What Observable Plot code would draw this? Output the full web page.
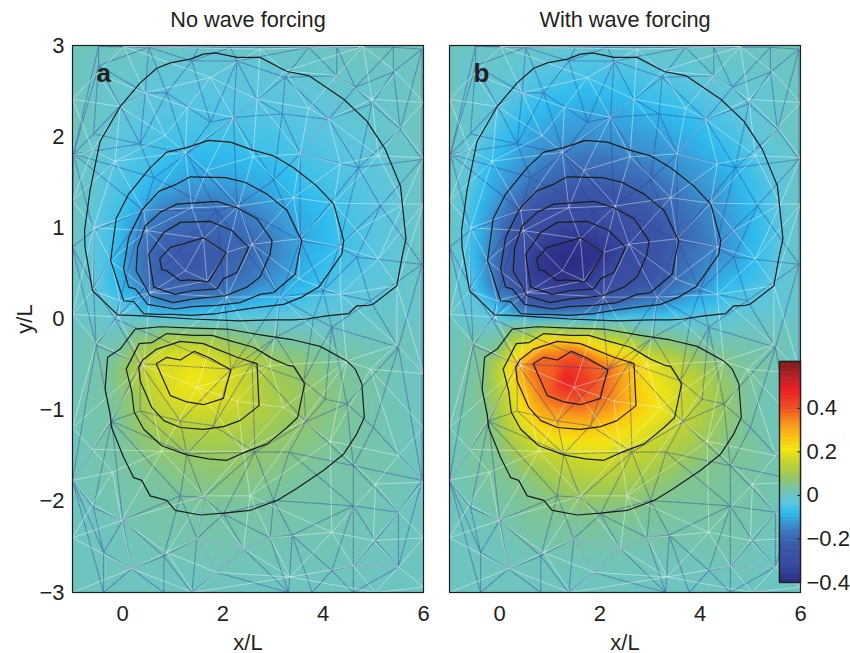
<!DOCTYPE html>
<html><head><meta charset="utf-8">
<script src="https://cdn.jsdelivr.net/npm/d3@7"></script>
<script src="https://cdn.jsdelivr.net/npm/@observablehq/plot@0.6"></script>
<style>
html,body{margin:0;padding:0;background:#fff}
#chart{position:relative;width:850px;height:653px;overflow:hidden}
#chart svg{position:absolute;top:0}
</style></head>
<body><div id="chart"></div>
<script>
// Contours (x/L, y/L); the black lines coincide in the two panels
const upper1=[[-0.60,0.31],[-0.75,0.785],[-0.76,0.97],[-0.65,1.41],[-0.45,1.95],[-0.05,2.33],[0.35,2.59],[0.68,2.75],[0.95,2.81],[1.35,2.85],[1.61,2.905],[1.85,2.92],[2.28,2.87],[2.74,2.87],[3.28,2.715],[3.71,2.67],[4.41,2.41],[4.87,2.17],[5.24,1.86],[5.54,1.46],[5.65,0.88],[5.57,0.675],[5.47,0.365],[5.00,0.165],[4.90,0.15],[4.67,0.145],[4.51,0.06],[4.07,0.035],[3.67,0.0],[3.41,-0.01],[3.01,-0.01],[2.34,-0.02],[1.38,0.0],[0.42,0.035],[-0.10,0.045]];
const upper2=[[0.02,0.20],[-0.24,0.64],[-0.13,1.10],[0.12,1.37],[0.55,1.66],[0.88,1.83],[1.28,1.88],[1.71,1.96],[2.15,1.94],[2.61,1.85],[3.01,1.79],[3.41,1.66],[3.87,1.46],[4.21,1.26],[4.41,0.86],[4.37,0.71],[4.17,0.55],[3.91,0.35],[3.57,0.24],[3.21,0.16],[2.74,0.13],[2.34,0.10],[1.88,0.06],[1.38,0.04],[1.01,0.05],[0.68,0.05],[0.42,0.06],[0.22,0.19]];
const upper3=[[0.12,0.35],[0.02,0.55],[0.12,0.895],[0.38,1.19],[0.72,1.40],[1.08,1.48],[1.35,1.56],[2.05,1.55],[2.44,1.50],[2.88,1.37],[3.28,1.19],[3.57,0.86],[3.49,0.64],[3.44,0.49],[3.01,0.29],[2.74,0.27],[2.34,0.18],[1.88,0.15],[1.38,0.135],[1.05,0.11],[0.50,0.16],[0.25,0.33]];
const upper4=[[0.27,0.53],[0.30,0.785],[0.45,1.02],[0.75,1.17],[1.08,1.26],[1.88,1.29],[2.28,1.22],[2.68,1.10],[2.98,0.86],[2.94,0.71],[2.74,0.46],[2.48,0.35],[2.05,0.255],[1.41,0.22],[1.01,0.18],[0.55,0.255]];
const upper5=[[0.52,0.71],[0.82,0.95],[1.15,1.06],[1.75,1.07],[2.18,0.97],[2.51,0.785],[2.28,0.51],[2.01,0.44],[1.88,0.33],[1.38,0.31],[1.05,0.27],[0.62,0.35]];
const upper6=[[0.74,0.66],[0.95,0.785],[1.18,0.82],[1.60,0.89],[2.07,0.73],[1.71,0.41],[1.31,0.43],[1.15,0.42],[0.88,0.53],[0.78,0.54]];
const lower1=[[0.25,-0.11],[0.75,-0.085],[1.41,-0.10],[2.08,-0.11],[2.81,-0.18],[3.41,-0.23],[3.94,-0.30],[4.47,-0.46],[4.64,-0.55],[4.77,-0.71],[4.82,-1.08],[4.67,-1.26],[4.41,-1.48],[4.01,-1.66],[3.47,-1.86],[3.08,-1.99],[2.54,-2.10],[2.01,-2.13],[1.55,-2.15],[1.05,-2.10],[0.88,-1.99],[0.55,-1.94],[0.38,-1.77],[0.22,-1.74],[0.02,-1.52],[-0.22,-1.19],[-0.25,-1.04],[-0.35,-0.77],[-0.30,-0.42],[-0.05,-0.33]];
const lower2=[[0.33,-0.27],[0.58,-0.26],[0.88,-0.16],[1.41,-0.18],[1.78,-0.18],[2.15,-0.24],[2.61,-0.31],[3.01,-0.44],[3.28,-0.505],[3.41,-0.52],[3.63,-0.71],[3.49,-1.08],[3.28,-1.19],[2.88,-1.37],[2.44,-1.46],[2.08,-1.55],[1.71,-1.535],[1.28,-1.49],[0.78,-1.39],[0.42,-1.21],[0.23,-1.02],[0.18,-0.79],[0.07,-0.55]];
const lower3=[[0.40,-0.45],[0.68,-0.33],[1.15,-0.245],[1.61,-0.27],[1.88,-0.33],[2.28,-0.42],[2.68,-0.49],[2.72,-0.95],[2.34,-1.115],[2.01,-1.18],[1.61,-1.21],[1.15,-1.19],[0.82,-1.115],[0.58,-0.97],[0.35,-0.68],[0.32,-0.53]];
const lower4=[[0.67,-0.49],[0.88,-0.42],[1.15,-0.45],[1.43,-0.355],[1.75,-0.43],[2.16,-0.56],[2.07,-0.73],[2.01,-0.87],[1.61,-0.94],[1.28,-0.91],[0.95,-0.84]];
const contours=[upper1,upper2,upper3,upper4,upper5,upper6,lower1,lower2,lower3,lower4];
// Estimated field value on each contour, per panel
const levelsA=[-0.02,-0.065,-0.105,-0.155,-0.195,-0.22,0.03,0.08,0.13,0.18];
const levelsB=[-0.035,-0.135,-0.21,-0.27,-0.32,-0.37,0.05,0.165,0.26,0.38];
// Extremes and background samples: [x, y, panel a, panel b]
const extremes=[[1.4,0.62,-0.24,-0.395],[1.35,-0.66,0.215,0.49]];
const background=[[-1,3,0.01,0.005],[0,3,0.005,0],[1,3,0,-0.005],[2,3,-0.005,-0.01],[3,3,0,-0.005],[4,3,0.005,0],[5,3,0.01,0.005],[6,3,0.01,0.01],
[-1,2,0.01,0.005],[-1,1,0.01,0.0],[-1,0.3,0.005,0],[6,2,0.01,0.005],[6,1,0.005,-0.005],[6,0.3,0.005,0],
[-1,-0.04,0,0],[0,-0.04,0,0],[0.5,-0.04,0,0],[1,-0.04,0,0],[1.5,-0.04,0,0],[2,-0.04,0,0],[2.5,-0.04,0,0],[3,-0.07,0,0],[3.5,-0.1,0,0],[4,-0.12,0,0],[5,-0.1,0,0],[6,-0.05,0,0],
[-1,-1,0.01,0.01],[-1,-2,0.005,0.005],[6,-1,0.005,0.005],[6,-2,0.005,0.005],
[-1,-3,0.003,0.003],[0,-3,0.003,0.003],[1,-3,0.003,0.003],[2,-3,0.003,0.003],[3,-3,0.003,0.003],[4,-3,0.003,0.003],[5,-3,0.003,0.003],[6,-3,0.003,0.003],
[0.5,-2.6,0.012,0.012],[2,-2.6,0.015,0.015],[3.5,-2.6,0.012,0.012],[5.3,-1,0.012,0.012]];
// Mesh nodes
const whiteNodes=[[-1,2.41],[-0.51,2.69],[0.02,2.99],[0.45,2.48],[-0.05,2.33],[-0.60,1.85],[-0.15,1.73],[0.85,2.01],[1.75,2.65],[1.29,2.32],[2.74,2.96],[2.68,2.41],[2.21,2.21],[1.25,1.83],[1.68,1.63],[2.60,1.78],[3.24,2.72],[3.71,2.31],[4.27,2.67],[4.80,2.99],[4.97,2.41],[4.11,2.19],[3.54,1.81],[4.34,1.70],[5.10,1.79],[5.47,2.70],[6,2.375],[6,1.77],[5.54,2.10],[3.41,1.33],[4.21,1.27],[4.67,0.97],[5.10,0.66],[5.60,1.26],[6,1.26],[0.42,1.19],[1.38,1.22],[2.31,1.24],[3.54,0.88],[4.34,0.79],[2.58,0.82],[2.08,0.73],[1.61,0.88],[0.48,0.97],[-0.24,0.64],[-0.58,1.0],[-1,1.30],[-1,1.79],[1.25,0.53],[1.68,0.42],[3.51,0.44],[4.34,0.27],[5.47,0.365],[3.14,0.24],[2.08,0.24],[0.55,0.29],[-0.05,0.20],[-0.60,0.31],[-1,0.05],
[-0.53,-0.26],[-0.08,0.02],[0.78,-1.45],[-0.20,-1.68],[-0.60,-1.43],[-1,-1.19],[-1,-1.77],[-0.60,-2.03],[-0.02,-2.21],[0.88,-2.56],[0.18,-2.74],[-1,-2.40],[1.48,-2.41],[1.61,-1.94],[2.54,-1.94],[2.41,-1.45],[3.21,-0.97],[2.28,-0.90],[1.48,-0.75],[0.42,-0.51],[2.94,-0.51],[3.61,-1.12],[4.14,-1.34],[5.04,-1.81],[5.50,-1.50],[4.94,-0.55],[5.47,-0.28],[6,-0.60],[4.47,-0.46],[6,-1.19],[6,-1.79],[5.50,-2.12],[4.17,-2.34],[5.0,-2.43],[6,-2.40],[4.60,-2.71],[2.94,-2.40],[3.34,-2.83],[2.41,-2.52],[1.88,-2.78],[1.41,-3],[5.50,-2.72],[6,-2.94],[5.04,-3],[-1,-3]];
const blueNodes=[[-0.48,2.99],[-0.48,2.78],[-0.98,1.81],[-0.58,2.03],[-0.05,2.34],[0.52,2.98],[0.45,2.48],[0.88,2.48],[0.35,1.92],[1.38,2.83],[1.51,2.98],[1.75,2.16],[2.21,2.21],[2.68,2.41],[2.15,2.98],[2.28,2.83],[3.24,2.65],[3.71,2.98],[3.18,2.25],[3.54,1.81],[4.27,2.98],[4.27,2.67],[4.64,2.54],[4.11,2.19],[5.40,2.98],[5.40,2.71],[5.97,2.96],[4.97,2.36],[4.70,1.66],[5.54,2.08],[5.97,1.75],[5.14,1.24],[4.67,0.68],[5.97,0.60],[4.94,0.20],[3.01,1.52],[2.28,1.24],[1.88,1.19],[1.28,1.81],[0.62,1.55],[-0.58,0.97],[-0.58,0.35],[-1,0.79],[0.42,1.19],[3.54,0.86],[4.31,0.79],[4.0,0.31],[3.14,0.24],
[-1,-1.77],[-0.53,-0.29],[-0.15,0],[0,-2.21],[-0.58,-2.07],[-0.38,-2.56],[-0.38,-3],[0.18,-2.74],[0.82,-2.60],[0.82,-3],[1.48,-2.41],[1.38,-3],[1.88,-2.78],[2.41,-2.52],[2.94,-2.40],[3.38,-2.37],[3.31,-3],[3.78,-3],[4.17,-2.76],[4.60,-2.71],[4.60,-3],[5.50,-2.12],[5.50,-2.72],[5.04,-2.43],[5.97,-1.77],[5.0,-1.19],[5.50,-0.31],[4.47,-0.93],[4.04,-0.88],[3.65,-1.13],[3.32,-1.46],[2.64,-1.46],[4.60,-1.61],[4.60,-2.05],[1.15,-1.94],[1.61,-1.96],[2.01,-2.14],[3.01,-1.99],[0.35,-1.01],[-0.22,-1.12],[1.15,-1.12],[1.81,-1.17],[1.28,-1.48],[2.16,-0.55],[2.58,-0.48],[3.06,-0.20],[3.61,-0.68],[4.17,-0.09],[3.81,0.02],[0.35,-0.49]];
// Colour map
const colorStops=[-0.4,-0.32,-0.24,-0.17,-0.12,-0.08,-0.04,0,0.04,0.09,0.15,0.21,0.27,0.33,0.4,0.48,0.55,0.615];
const colorValues=["#2a2a82","#3a4aa0","#3a56a6","#3b75bb","#3a9ad6","#2ebcee","#5ac5e0","#6cc5c4","#7cc49a","#9bc85a","#c4d42f","#f3e614","#fdc010","#f7941d","#f04f23","#ed2024","#b52025","#7a1c1c"];
const barTicks=[-0.4,-0.2,0,0.2,0.4];
const xTicks=[0,2,4,6];
const yTicks=[-3,-2,-1,0,1,2,3];
const panelTitles=["No wave forcing","With wave forcing"];
const panelTags=["a","b"];

const font="'Liberation Sans',Arial,sans-serif";
const ink="#231f20";
const color={type:"linear",domain:colorStops,range:colorValues,clamp:true};
const field=(levels,key)=>[
  ...contours.flatMap((c,i)=>c.map(([x,y])=>({x,y,v:levels[i]}))),
  ...extremes.map(d=>({x:d[0],y:d[1],v:d[key]})),
  ...background.map(d=>({x:d[0],y:d[1],v:d[key]}))
];
function panel(i,levels,key,left,showY){
  const svg=Plot.plot({
    width:440,height:653,marginLeft:72,marginRight:17,marginTop:45,marginBottom:61,
    style:{background:"transparent",fontFamily:font,fontSize:"22px",color:ink,overflow:"visible"},
    x:{domain:[-1,6]},y:{domain:[-3,3]},color,
    marks:[
      Plot.raster(field(levels,key),{x:"x",y:"y",fill:"v",interpolate:"barycentric",x1:-1,x2:6,y1:-3,y2:3,pixelSize:1,blur:3}),
      Plot.delaunayMesh(blueNodes,{x:d=>d[0],y:d=>d[1],stroke:"#2f3a9c",strokeWidth:1.1,strokeOpacity:0.55,strokeDasharray:"1.5 0.5"}),
      Plot.delaunayMesh(whiteNodes,{x:d=>d[0],y:d=>d[1],stroke:"#fff",strokeWidth:0.55,strokeOpacity:0.75}),
      ...contours.map(c=>Plot.line(c,{x:d=>d[0],y:d=>d[1],stroke:"#1c1c1c",strokeWidth:1.2,curve:"linear-closed"})),
      Plot.frame({stroke:ink,strokeWidth:1.2}),
      Plot.axisX({ticks:xTicks,tickSize:0,tickPadding:13,tickFormat:d=>d,label:"x/L",labelAnchor:"center",labelArrow:"none",labelOffset:57}),
      showY?Plot.axisY({ticks:yTicks,tickSize:0,tickPadding:8,tickFormat:d=>String(d).replace("-","\u2212"),label:"y/L",labelAnchor:"center",labelArrow:"none",labelOffset:56}):Plot.axisY({ticks:[],label:null}),
      Plot.text([panelTitles[i]],{frameAnchor:"top",dy:-34,text:d=>d,fontSize:21.7}),
      Plot.text([panelTags[i]],{frameAnchor:"top-left",dx:24,dy:18,text:d=>d,fontSize:26,fontWeight:"bold",fill:ink})
    ]
  });
  svg.style.left=left+"px";
  return svg;
}
const chart=document.getElementById("chart");
chart.append(panel(0,levelsA,2,0,true));
chart.append(panel(1,levelsB,3,377,false));

// Colour bar: one band per step of the 64-level colour map
const bandCount=64, y0=colorStops[0], y1=colorStops[colorStops.length-1], step=(y1-y0)/bandCount;
const bands=d3.range(bandCount).map(i=>y0+i*step);
const bar=Plot.plot({
  width:850,height:653,marginLeft:779,marginRight:50,marginTop:361,marginBottom:71,
  style:{background:"transparent",fontFamily:font,fontSize:"22px",color:ink,overflow:"visible"},
  x:{domain:[0,1],axis:null},y:{domain:[y0,y1]},color,
  marks:[
    Plot.rect(bands,{x1:0,x2:1,y1:d=>d,y2:d=>d+step,fill:d=>d+step/2,inset:-0.2}),
    Plot.frame({stroke:ink,strokeWidth:1.4}),
    Plot.ruleY(barTicks,{x1:0.87,x2:1,stroke:ink,strokeWidth:1}),
    Plot.axisY({anchor:"right",ticks:barTicks,tickSize:0,tickPadding:6,tickFormat:d=>d===0?"0":String(d).replace("-","\u2212"),label:null})
  ]
});
bar.style.left="0px";
chart.append(bar);
</script></body></html>
